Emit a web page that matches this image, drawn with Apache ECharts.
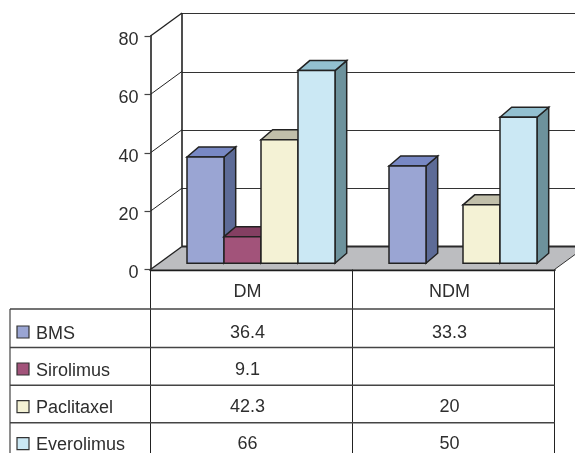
<!DOCTYPE html>
<html>
<head>
<meta charset="utf-8">
<style>html,body{margin:0;padding:0;background:#fff}#chart{width:575px;height:453px}</style>
<script src="https://cdn.jsdelivr.net/npm/echarts@6/dist/echarts.min.js"></script>
</head>
<body>
<div id="chart"></div>
<script>
// Stent groups and their rates
const categories = ['DM', 'NDM'];
const seriesNames = ['BMS', 'Sirolimus', 'Paclitaxel', 'Everolimus'];
const bms = [36.4, 33.3];
const sirolimus = [9.1, null];
const paclitaxel = [42.3, 20];
const everolimus = [66, 50];
const yTicks = [0, 20, 40, 60, 80];
const seriesValues = [bms, sirolimus, paclitaxel, everolimus];

// Face colours per series: front, top, side
const faces = [
  ['#9aa5d3', '#7888c4', '#5d6b97'],
  ['#a2537a', '#843f62', '#6d3350'],
  ['#f4f2d5', '#c1bfaa', '#9a9886'],
  ['#cbe8f4', '#93c0d0', '#6d929c']
];

const FONT = '18px "Liberation Sans", Arial, sans-serif';
const TEXT = '#2e2e2e';
const EDGE = '#222';

// Oblique projection of the room and of the bar bodies
const WALL_DX = 31.5, WALL_DY = -23;
const BAR_DX = 11.7, BAR_DY = -10;
const BAR_W = 37, BAR_SHIFT_X = 9.5, BAR_LIFT = 6.3;

// Data table under the plot
const ROW_Y = [309, 347.5, 385.3, 422.7];
const ROW_TEXT_Y = [333, 370.3, 407.5, 444.3];
const KEY_Y = [332, 369, 406.7, 443.7];
const TABLE_LEFT = 10, TABLE_BOTTOM = 453, LABEL_X = 36, CELL_SHIFT = -4;

const line = (x1, y1, x2, y2, stroke, lineWidth) => ({
  type: 'line', shape: { x1, y1, x2, y2 }, style: { stroke, lineWidth }
});
const poly = (points, fill, stroke, lineWidth) => ({
  type: 'polygon', shape: { points }, style: { fill, stroke, lineWidth, lineJoin: 'miter' }
});
const label = (text, x, y, align) => ({
  type: 'text',
  style: { text, x, y, fill: TEXT, font: FONT, align, verticalAlign: 'middle' }
});

// Floor plane and the diagonal joints of the side wall
function renderRoom(params, api) {
  const cs = params.coordSys;
  const left = cs.x, right = cs.x + cs.width, base = cs.y + cs.height;
  const far = right + WALL_DX;
  const children = [
    poly([[left, base], [left + WALL_DX, base + WALL_DY], [far, base + WALL_DY], [right, base]], '#bcbdc0', 'none', 0),
    line(left + WALL_DX, base + WALL_DY, far, base + WALL_DY, '#2a2a2a', 2),
    line(right, base, far, base + WALL_DY, '#333', 1)
  ];
  yTicks.forEach(t => {
    const y = api.coord([0, t])[1];
    children.push(line(left, y, left + WALL_DX, y + WALL_DY, EDGE, t === 0 || t === 80 ? 1.4 : 1));
  });
  children.push(line(left + WALL_DX, cs.y + WALL_DY, left + WALL_DX, base + WALL_DY, EDGE, 1.6));
  return { type: 'group', children };
}

// One oblique box per data point
function renderBar(seriesIndex) {
  return function (params, api) {
    const cat = api.value(0), value = api.value(1);
    const centre = api.coord([cat, 0]);
    const top = api.coord([cat, value])[1] - BAR_LIFT;
    const base = centre[1] - BAR_LIFT;
    const x0 = centre[0] + BAR_SHIFT_X + (seriesIndex - 2) * BAR_W;
    const x1 = x0 + BAR_W;
    const [front, lid, side] = faces[seriesIndex];
    return {
      type: 'group',
      children: [
        poly([[x1, base], [x1 + BAR_DX, base + BAR_DY], [x1 + BAR_DX, top + BAR_DY], [x1, top]], side, EDGE, 1.5),
        poly([[x0, top], [x0 + BAR_DX, top + BAR_DY], [x1 + BAR_DX, top + BAR_DY], [x1, top]], lid, EDGE, 1.5),
        poly([[x0, top], [x1, top], [x1, base], [x0, base]], front, EDGE, 1.5)
      ]
    };
  };
}

// Table rules, legend keys and value cells
function renderTable(params, api) {
  const cs = params.coordSys;
  const left = cs.x, right = cs.x + cs.width, base = cs.y + cs.height;
  const mid = api.coord([0, 0])[0] + api.size([1, 0])[0] / 2;
  const children = [
    line(left, base, left, TABLE_BOTTOM, EDGE, 1),
    line(mid, base, mid, TABLE_BOTTOM, EDGE, 1),
    line(right, base, right, TABLE_BOTTOM, EDGE, 1)
  ];
  ROW_Y.forEach(y => children.push(line(TABLE_LEFT, y, right, y, '#444', 1.4)));
  children.push(line(TABLE_LEFT, ROW_Y[0], TABLE_LEFT, TABLE_BOTTOM, '#444', 1.2));
  seriesNames.forEach((name, i) => {
    children.push({
      type: 'rect',
      shape: { x: 17, y: KEY_Y[i] - 6, width: 12, height: 12 },
      style: { fill: faces[i][0], stroke: '#333', lineWidth: 1.2 }
    });
    children.push(label(name, LABEL_X, ROW_TEXT_Y[i] + 1, 'left'));
    categories.forEach((c, j) => {
      const v = seriesValues[i][j];
      if (v !== null) children.push(label(String(v), api.coord([j, 0])[0] + CELL_SHIFT, ROW_TEXT_Y[i], 'center'));
    });
  });
  return { type: 'group', children };
}

const barSeries = seriesNames.map((name, i) => ({
  name,
  type: 'custom',
  xAxisIndex: 0,
  yAxisIndex: 0,
  z: 5,
  renderItem: renderBar(i),
  encode: { x: 0, y: 1 },
  data: seriesValues[i].map((v, c) => [c, v]).filter(d => d[1] !== null)
}));

const chart = echarts.init(document.getElementById('chart'), null, { renderer: 'canvas' });
chart.setOption({
  animation: false,
  backgroundColor: '#fff',
  grid: [
    { left: 150.5, top: 36, width: 404, height: 233.5 },
    { left: 182, top: 13.5, width: 393, height: 233 }
  ],
  xAxis: [
    {
      gridIndex: 0, type: 'category', data: categories,
      axisTick: { show: false },
      axisLine: { onZero: false, lineStyle: { color: '#1c1c1c', width: 2.4 } },
      axisLabel: { color: TEXT, fontFamily: 'Liberation Sans', fontSize: 18, margin: 14, padding: [0, 8, 0, 0] }
    },
    { gridIndex: 1, type: 'category', data: categories, show: false }
  ],
  yAxis: [
    {
      gridIndex: 0, type: 'value', min: 0, max: 80, interval: 20,
      axisLine: { show: true, lineStyle: { color: '#222', width: 1.6 } },
      axisTick: { show: true, length: 6, lineStyle: { color: '#444', width: 1.2 } },
      axisLabel: { color: TEXT, fontFamily: 'Liberation Sans', fontSize: 18, margin: 12, verticalAlign: 'top', lineHeight: 8 },
      splitLine: { show: false }
    },
    {
      gridIndex: 1, type: 'value', min: 0, max: 80, interval: 20,
      axisLine: { show: false }, axisTick: { show: false }, axisLabel: { show: false },
      splitLine: { show: true, lineStyle: { color: '#333', width: 1.1 } }
    }
  ],
  series: [
    {
      type: 'custom', xAxisIndex: 0, yAxisIndex: 0, z: 1, silent: true,
      renderItem: renderRoom, data: [[0, 0]], encode: { x: 0, y: 1 }
    },
    {
      type: 'custom', xAxisIndex: 0, yAxisIndex: 0, z: 3, silent: true,
      renderItem: renderTable, data: [[0, 0]], encode: { x: 0, y: 1 }
    }
  ].concat(barSeries)
});
</script>
</body>
</html>
